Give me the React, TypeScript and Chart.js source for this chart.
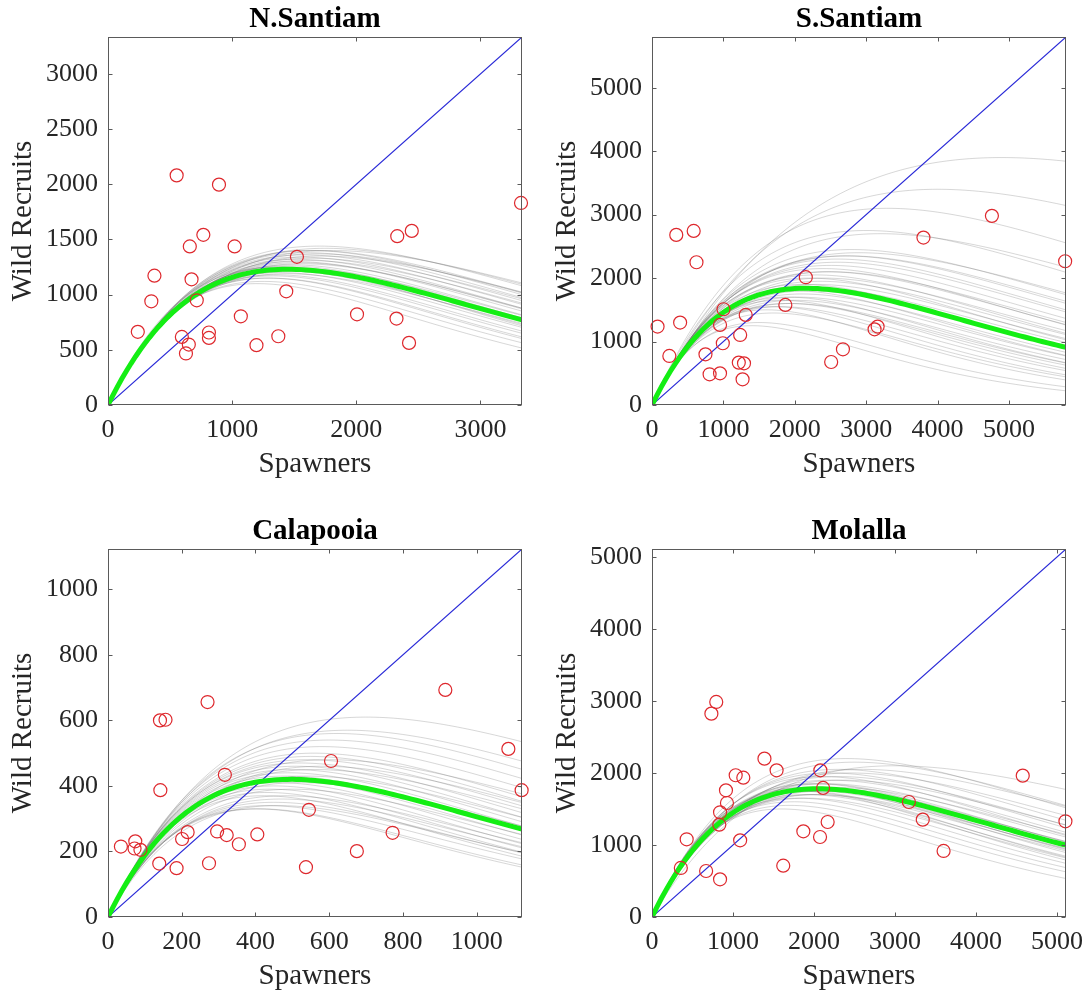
import React, { useEffect, useRef } from 'react';
import { Chart, registerables } from 'chart.js';

Chart.register(...registerables);

const FONT = "'Liberation Serif', 'Times New Roman', Times, serif";

// ---------- panel settings ----------
const PANEL_TITLES = ['N.Santiam', 'S.Santiam', 'Calapooia', 'Molalla'];
const AXIS_MAX = [3335, 5800, 1123, 5110];

const NS_TICKS_X = [0, 1000, 2000, 3000];
const NS_TICKS_Y = [0, 500, 1000, 1500, 2000, 2500, 3000];
const SS_TICKS = [0, 1000, 2000, 3000, 4000, 5000];
const CA_TICKS = [0, 200, 400, 600, 800, 1000];
const MO_TICKS = [0, 1000, 2000, 3000, 4000, 5000];

// ---------- observed spawner / recruit pairs ----------
const NS_SPAWNERS = [240, 349, 374, 553, 894, 659, 768, 673, 715, 595, 651, 628, 813, 813, 1020, 1070, 1196, 1372, 1436, 1522, 2006, 2330, 2447, 2324, 2425, 3327];
const NS_RECRUITS = [663, 940, 1172, 2081, 1997, 1437, 1542, 1139, 949, 617, 548, 467, 657, 608, 1437, 804, 542, 623, 1030, 1343, 822, 1530, 1578, 783, 563, 1831];

const SS_SPAWNERS = [78, 243, 340, 584, 394, 623, 749, 807, 953, 953, 992, 1002, 1235, 1216, 1289, 1269, 1313, 1868, 2155, 2510, 2675, 3118, 3161, 3803, 4762, 5788];
const SS_RECRUITS = [1236, 773, 2681, 2744, 1299, 2250, 799, 484, 499, 1262, 973, 1509, 1104, 668, 657, 405, 1420, 1577, 2014, 678, 878, 1193, 1236, 2639, 2981, 2266];

const CA_SPAWNERS = [35, 74, 72, 88, 139, 141, 156, 142, 186, 201, 216, 270, 274, 296, 317, 322, 355, 405, 537, 545, 605, 675, 772, 915, 1086, 1122];
const CA_RECRUITS = [215, 231, 209, 205, 163, 600, 602, 387, 149, 238, 259, 656, 164, 261, 434, 250, 222, 252, 152, 327, 476, 201, 257, 693, 513, 387];

const MO_SPAWNERS = [356, 428, 668, 733, 793, 840, 831, 840, 913, 925, 1033, 1127, 1088, 1388, 1538, 1620, 1868, 2074, 2078, 2112, 2168, 3171, 3342, 3599, 4576, 5103];
const MO_RECRUITS = [681, 1079, 639, 2824, 2986, 523, 1282, 1454, 1759, 1583, 1968, 1935, 1065, 2199, 2037, 713, 1190, 1111, 2037, 1792, 1319, 1597, 1352, 917, 1963, 1329];

// ---------- Ricker curves: spawners at peak (Smax) and peak recruits (Rmax) ----------
const GREEN_SMAX = [1450, 2150, 495, 2050];
const GREEN_RMAX = [1230, 1840, 420, 1780];

const NS_GREY_SMAX = [1350, 1400, 1450, 1500, 1550, 1600, 1650, 1700, 1300, 1380, 1420, 1480, 1520, 1580, 1620, 1750, 1250, 1330, 1460, 1540, 1600, 1680, 1720, 1360, 1440, 1500, 1560, 1640, 1200, 1280, 1470, 1800];
const NS_GREY_RMAX = [1180, 1220, 1260, 1300, 1340, 1380, 1400, 1440, 1150, 1200, 1250, 1270, 1320, 1360, 1400, 1420, 1120, 1170, 1230, 1290, 1310, 1370, 1350, 1250, 1190, 1240, 1280, 1330, 1100, 1150, 1210, 1400];

const SS_GREY_SMAX = [4900, 4000, 3300, 3000, 3200, 2800, 2900, 2700, 2600, 2500, 2500, 2400, 2400, 2300, 2300, 2200, 2200, 2100, 2100, 2000, 2000, 1900, 1900, 1800, 1800, 1700, 1700, 1600, 1500, 2600, 2750, 2450, 2350, 2250, 2050, 1950, 1400];
const SS_GREY_RMAX = [3900, 3400, 3100, 2750, 2700, 2450, 2400, 2350, 2300, 2200, 2100, 2150, 2000, 2050, 1900, 2000, 1800, 1900, 1750, 1800, 1650, 1700, 1600, 1650, 1550, 1550, 1450, 1500, 1300, 2250, 2350, 2100, 1950, 1850, 1700, 1600, 1250];

const CA_GREY_SMAX = [700, 650, 620, 600, 580, 560, 550, 540, 520, 510, 500, 490, 480, 470, 460, 450, 440, 430, 420, 450, 430, 410, 600, 580, 560, 540, 520, 500, 480, 470, 460, 400];
const CA_GREY_RMAX = [610, 570, 560, 540, 520, 500, 490, 480, 470, 460, 450, 440, 430, 420, 410, 400, 390, 380, 370, 350, 340, 330, 480, 460, 450, 430, 410, 390, 370, 360, 340, 330];

const MO_GREY_SMAX = [3000, 2500, 2400, 2300, 2300, 2200, 2200, 2150, 2100, 2100, 2050, 2000, 2000, 1950, 1900, 1900, 1850, 1800, 1800, 1750, 1700, 1600, 2250, 2350, 2150, 2000, 1900, 2450, 2600, 2050];
const MO_GREY_RMAX = [2100, 2150, 2200, 2050, 1950, 2000, 1900, 1850, 1950, 1800, 1850, 1750, 1850, 1800, 1700, 1800, 1750, 1650, 1750, 1600, 1550, 1500, 1800, 1900, 1750, 1700, 1650, 2000, 2050, 1700];

const PANELS = [
  { title: PANEL_TITLES[0], max: AXIS_MAX[0], ticksX: NS_TICKS_X, ticksY: NS_TICKS_Y, s: NS_SPAWNERS, r: NS_RECRUITS, gS: NS_GREY_SMAX, gR: NS_GREY_RMAX, green: 0 },
  { title: PANEL_TITLES[1], max: AXIS_MAX[1], ticksX: SS_TICKS, ticksY: SS_TICKS, s: SS_SPAWNERS, r: SS_RECRUITS, gS: SS_GREY_SMAX, gR: SS_GREY_RMAX, green: 1 },
  { title: PANEL_TITLES[2], max: AXIS_MAX[2], ticksX: CA_TICKS, ticksY: CA_TICKS, s: CA_SPAWNERS, r: CA_RECRUITS, gS: CA_GREY_SMAX, gR: CA_GREY_RMAX, green: 2 },
  { title: PANEL_TITLES[3], max: AXIS_MAX[3], ticksX: MO_TICKS, ticksY: MO_TICKS, s: MO_SPAWNERS, r: MO_RECRUITS, gS: MO_GREY_SMAX, gR: MO_GREY_RMAX, green: 3 },
];

const STEPS = 90;
function rickerCurve(smax: number, rmax: number, xmax: number) {
  const pts: { x: number; y: number }[] = [];
  for (let i = 0; i <= STEPS; i++) {
    const s = (xmax * i) / STEPS;
    pts.push({ x: s, y: rmax * (s / smax) * Math.exp(1 - s / smax) });
  }
  return pts;
}

const framePlugin = {
  id: 'frame',
  afterDraw(chart: any, _args: any, opts: any) {
    const { ctx, chartArea: a, scales } = chart;
    const x = scales.x;
    const y = scales.y;
    ctx.save();
    const L = Math.round(a.left) + 0.5;
    const R = Math.round(a.right) - 0.5;
    const T = Math.round(a.top) + 0.5;
    const B = Math.round(a.bottom) - 0.5;
    ctx.strokeStyle = '#5a5a5a';
    ctx.lineWidth = 1;
    ctx.strokeRect(L, T, R - L, B - T);
    const tl = 4;
    ctx.beginPath();
    (opts.ticksX || []).forEach((v: number) => {
      const px = Math.round(x.getPixelForValue(v)) + 0.5;
      ctx.moveTo(px, B);
      ctx.lineTo(px, B - tl);
      ctx.moveTo(px, T);
      ctx.lineTo(px, T + tl);
    });
    (opts.ticksY || []).forEach((v: number) => {
      const py = Math.round(y.getPixelForValue(v)) + 0.5;
      ctx.moveTo(L, py);
      ctx.lineTo(L + tl, py);
      ctx.moveTo(R, py);
      ctx.lineTo(R - tl, py);
    });
    ctx.stroke();
    ctx.fillStyle = '#000';
    ctx.font = `bold 29px ${FONT}`;
    ctx.textAlign = 'center';
    ctx.textBaseline = 'middle';
    ctx.fillText(opts.title || '', (a.left + a.right) / 2, a.top - 17);
    ctx.restore();
  },
};

function Panel({ idx, top }: { idx: number; top: number }) {
  const ref = useRef<HTMLCanvasElement | null>(null);
  useEffect(() => {
    const p = PANELS[idx];
    const datasets: any[] = [];
    datasets.push({
      label: 'obs',
      data: p.s.map((v, i) => ({ x: v, y: p.r[i] })),
      showLine: false,
      pointStyle: 'circle',
      pointRadius: 6.5,
      pointBorderWidth: 1.2,
      pointBorderColor: 'rgb(222,40,45)',
      pointBackgroundColor: 'rgba(0,0,0,0)',
      clip: false,
    });
    datasets.push({
      label: 'fit',
      data: rickerCurve(GREEN_SMAX[p.green], GREEN_RMAX[p.green], p.max),
      showLine: true,
      pointRadius: 0,
      borderColor: 'rgb(20,238,20)',
      borderWidth: 5,
    });
    datasets.push({
      label: '1:1',
      data: [{ x: 0, y: 0 }, { x: p.max, y: p.max }],
      showLine: true,
      pointRadius: 0,
      borderColor: 'rgb(40,40,215)',
      borderWidth: 1.2,
    });
    p.gS.forEach((sm, i) => {
      datasets.push({
        label: 'g' + i,
        data: rickerCurve(sm, p.gR[i], p.max),
        showLine: true,
        pointRadius: 0,
        borderColor: 'rgba(100,100,100,0.26)',
        borderWidth: 1,
      });
    });
    const chartTop = top ? 51 : 37;
    const chartBottom = top ? 419 : 405;
    const chart = new Chart(ref.current as HTMLCanvasElement, {
      type: 'scatter',
      data: { datasets },
      options: {
        animation: false,
        responsive: false,
        events: [],
        layout: { padding: { top: chartTop, right: 22, bottom: 498 - chartBottom - 78, left: 0 } },
        plugins: {
          legend: { display: false },
          tooltip: { enabled: false },
          title: { display: false },
          frame: { title: p.title, ticksX: p.ticksX, ticksY: p.ticksY },
        } as any,
        scales: {
          x: {
            type: 'linear',
            min: 0,
            max: p.max,
            grid: { display: false },
            border: { display: false },
            ticks: {
              font: { family: FONT, size: 26 },
              color: '#262626',
              padding: 2,
              maxRotation: 0,
              autoSkip: false,
              callback: (v: any) => String(v),
            },
            title: {
              display: true,
              text: 'Spawners',
              font: { family: FONT, size: 29 },
              color: '#262626',
              padding: { top: 0, bottom: 1 },
            },
            afterBuildTicks: (s: any) => {
              s.ticks = p.ticksX.map((v) => ({ value: v }));
            },
            afterFit: (s: any) => {
              s.height = 78;
              s.paddingLeft = 0;
              s.paddingRight = 0;
            },
          },
          y: {
            type: 'linear',
            min: 0,
            max: p.max,
            grid: { display: false },
            border: { display: false },
            ticks: {
              font: { family: FONT, size: 26 },
              color: '#262626',
              padding: 2,
              autoSkip: false,
              callback: (v: any) => String(v),
            },
            title: {
              display: true,
              text: 'Wild Recruits',
              font: { family: FONT, size: 29 },
              color: '#262626',
              padding: { top: 6, bottom: 0 },
            },
            afterBuildTicks: (s: any) => {
              s.ticks = p.ticksY.map((v) => ({ value: v }));
            },
            afterFit: (s: any) => {
              s.width = 108;
              s.paddingTop = 0;
              s.paddingBottom = 0;
            },
          },
        },
      } as any,
      plugins: [framePlugin],
    });
    return () => chart.destroy();
  }, [idx, top]);
  return <canvas ref={ref} width={544} height={498} style={{ display: 'block', width: 544, height: 498 }} />;
}

export default function App() {
  const pos = [
    { left: 0, top: 0 },
    { left: 544, top: 0 },
    { left: 0, top: 498 },
    { left: 544, top: 498 },
  ];
  return (
    <div style={{ position: 'absolute', left: 0, top: 0, width: 1088, height: 996, background: '#fff' }}>
      {pos.map((p, i) => (
        <div key={i} style={{ position: 'absolute', left: p.left, top: p.top, width: 544, height: 498 }}>
          <Panel idx={i} top={i >= 2 ? 1 : 0} />
        </div>
      ))}
    </div>
  );
}
